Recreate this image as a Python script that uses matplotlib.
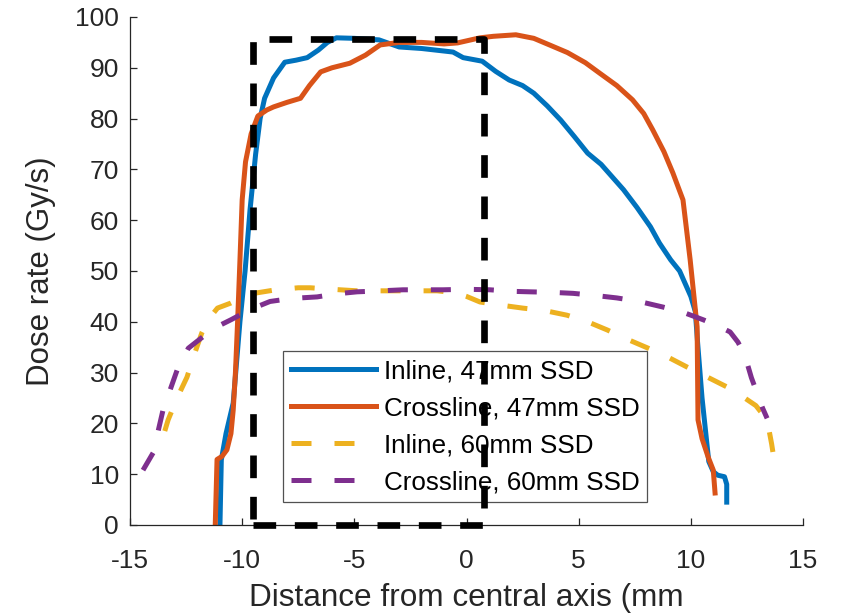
import matplotlib
matplotlib.use("Agg")
import matplotlib.pyplot as plt

# ---- data ----
x_inline47 = [-10.99, -10.93, -10.72, -10.4, -10.1, -9.87, -9.65, -9.4, -9.2, -9.0, -8.6, -8.1,
              -7.6, -7.1, -6.6, -6.2, -5.8, -5.0, -3.9, -3.0, -2.0, -1.2, -0.6, -0.15, 0.7, 1.3,
              1.9, 2.5, 3.0, 3.6, 4.2, 4.8, 5.4, 6.0, 6.5, 7.0, 7.6, 8.2, 8.6, 9.1, 9.5, 10.0,
              10.2, 10.3, 10.5, 10.8, 11.0, 11.2, 11.5, 11.6, 11.6]
y_inline47 = [0, 12.8, 18, 24, 40, 50, 62, 73, 80, 84, 88, 91.1,
              91.5, 92, 93.5, 95, 95.9, 95.8, 95.5, 94.1, 93.8, 93.4, 93.1, 92, 91.3, 89.3,
              87.6, 86.5, 85, 82.5, 79.7, 76.5, 73.2, 71, 68.5, 66, 62.5, 58.7, 55.5, 52.2, 50, 45,
              42, 36, 25, 12.5, 10.5, 9.8, 9.5, 8, 4.5]

x_cross47 = [-11.2, -11.12, -10.9, -10.68, -10.5, -10.4, -10.3, -10.2, -10.1, -10.0, -9.85, -9.6,
             -9.3, -8.9, -8.6, -8.0, -7.4, -7.0, -6.5, -6.0, -5.2, -4.5, -3.85, -3.0, -2.0, -1.0,
             -0.4, 0.6, 1.2, 2.2, 3.0, 3.7, 4.5, 5.3, 5.95, 6.7, 7.4, 7.9, 8.3, 8.8, 9.2, 9.65,
             9.97, 10.28, 10.32, 10.5, 10.77, 11.0, 11.08]
y_cross47 = [0, 12.9, 13.5, 14.8, 18, 22.6, 30, 40.4, 52, 64, 71.5, 77,
             80.5, 81.7, 82.3, 83.2, 84, 86.5, 89.2, 90.0, 90.9, 92.5, 94.5, 95, 95, 94.7,
             94.9, 95.9, 96.2, 96.5, 95.8, 94.5, 93, 91, 88.9, 86.5, 83.7, 81, 77.8, 73.5, 69.3, 64,
             52.2, 39, 20.7, 17, 13.4, 10.8, 6.3]

x_inline60 = [-13.45, -13.3, -12.9, -12.46, -12.1, -11.8, -11.5, -11.1, -10.5, -10.0, -9.34, -8.5,
              -7.5, -6.97, -6.0, -4.88, -4.0, -3.1, -2.0, -1.31, -0.5, 0.0, 0.6, 1.5, 2.5, 3.5,
              4.48, 5.4, 6.27, 7.2, 8.1, 9.0, 9.83, 10.7, 11.6, 12.4, 12.9, 13.4, 13.6, 13.75]
y_inline60 = [18.5, 20.7, 25, 29.1, 34, 37.8, 40.5, 42.7, 43.7, 44.8, 45.7, 46.3,
              46.7, 46.7, 46.4, 46.1, 46.1, 46.1, 46.1, 46.1, 45.7, 45.0, 43.9, 43.3, 42.7, 42.2,
              41.3, 40, 38.4, 36.5, 34.8, 33, 31.1, 29.2, 27.2, 25, 23.5, 20.7, 16, 11.8]

x_cross60 = [-14.42, -13.97, -13.53, -12.9, -12.4, -11.65, -11.0, -10.5, -9.6, -8.76, -7.8, -6.66,
             -5.8, -4.88, -3.8, -2.83, -1.9, -1.05, 0.0, 1.05, 2.0, 2.83, 3.8, 4.75, 5.7, 6.7,
             7.7, 8.76, 9.7, 10.55, 11.2, 11.75, 12.1, 12.4, 12.7, 12.95, 13.2, 13.4]
y_cross60 = [10.8, 14.2, 22.6, 30.5, 34.8, 37.4, 39.3, 40.4, 42.5, 44.0, 44.6, 44.9,
             45.5, 45.9, 46.1, 46.3, 46.3, 46.3, 46.4, 46.3, 46.0, 45.9, 45.8, 45.6, 45.2, 44.7,
             44.0, 42.9, 41.8, 40.4, 39.2, 38, 36, 33.5, 29, 26, 23, 21]

labels = ["Inline, 47mm SSD", "Crossline, 47mm SSD", "Inline, 60mm SSD", "Crossline, 60mm SSD"]
colors = ["#0072BD", "#D95319", "#EDB120", "#7E2F8E"]

rect_x = [-9.5, 0.8]
rect_y = [0, 95.7]

x_ticks = [-15, -10, -5, 0, 5, 10, 15]
y_ticks = [0, 10, 20, 30, 40, 50, 60, 70, 80, 90, 100]

# ---- plot ----
plt.rcParams['font.family'] = ['Liberation Sans', 'DejaVu Sans']
plt.rcParams['axes.unicode_minus'] = False
txt = "#262626"

fig = plt.figure(figsize=(8.41, 6.15), dpi=100)
ax = fig.add_axes([130 / 841, 1 - 525 / 615, 673 / 841, 508 / 615])

lw = 3.6
ax.plot(x_inline47, y_inline47, color=colors[0], lw=lw, label=labels[0], solid_joinstyle='round')
ax.plot(x_cross47, y_cross47, color=colors[1], lw=lw, label=labels[1], solid_joinstyle='round')
ax.plot(x_inline60, y_inline60, color=colors[2], lw=lw, label=labels[2], dashes=(4.0, 4.6))
ax.plot(x_cross60, y_cross60, color=colors[3], lw=lw, label=labels[3], dashes=(4.0, 4.6))

rx = [rect_x[0], rect_x[1], rect_x[1], rect_x[0], rect_x[0]]
ry = [rect_y[0], rect_y[0], rect_y[1], rect_y[1], rect_y[0]]
ax.plot(rx, ry, color='black', lw=4.8, dashes=(3.4, 2.8), clip_on=False, zorder=5)

ax.set_xlim(-15, 15)
ax.set_ylim(0, 100)
ax.set_xticks(x_ticks)
ax.set_yticks(y_ticks)
ax.spines['top'].set_visible(False)
ax.spines['right'].set_visible(False)
for s in ('left', 'bottom'):
    ax.spines[s].set_color(txt)
    ax.spines[s].set_linewidth(0.9)
ax.tick_params(axis='both', direction='in', length=5, width=0.9, colors=txt, labelsize=19)
ax.tick_params(axis='x', pad=17.5)
ax.tick_params(axis='y', pad=8)

ax.set_xlabel("Distance from central axis (mm", fontsize=22.7, color=txt)
ax.xaxis.set_label_coords(0.5, (525 - 606) / 508)
ax.xaxis.label.set_va('baseline')
ax.set_ylabel("Dose rate (Gy/s)", fontsize=22.5, color=txt)
ax.yaxis.set_label_coords((41 - 130) / 673, 0.5)
ax.yaxis.label.set_va('center')

leg = ax.legend(loc='lower left', bbox_to_anchor=((283 - 130) / 673, (525 - 502) / 508),
                borderaxespad=0, fontsize=18.7, frameon=True, fancybox=False,
                handlelength=3.27, handletextpad=0.3, labelspacing=0.5, borderpad=0.3,
                edgecolor=txt)
leg.get_frame().set_linewidth(0.9)
leg.set_zorder(4)
for t in leg.get_texts():
    t.set_color("#000000")

fig.savefig("out.png", dpi=100)
